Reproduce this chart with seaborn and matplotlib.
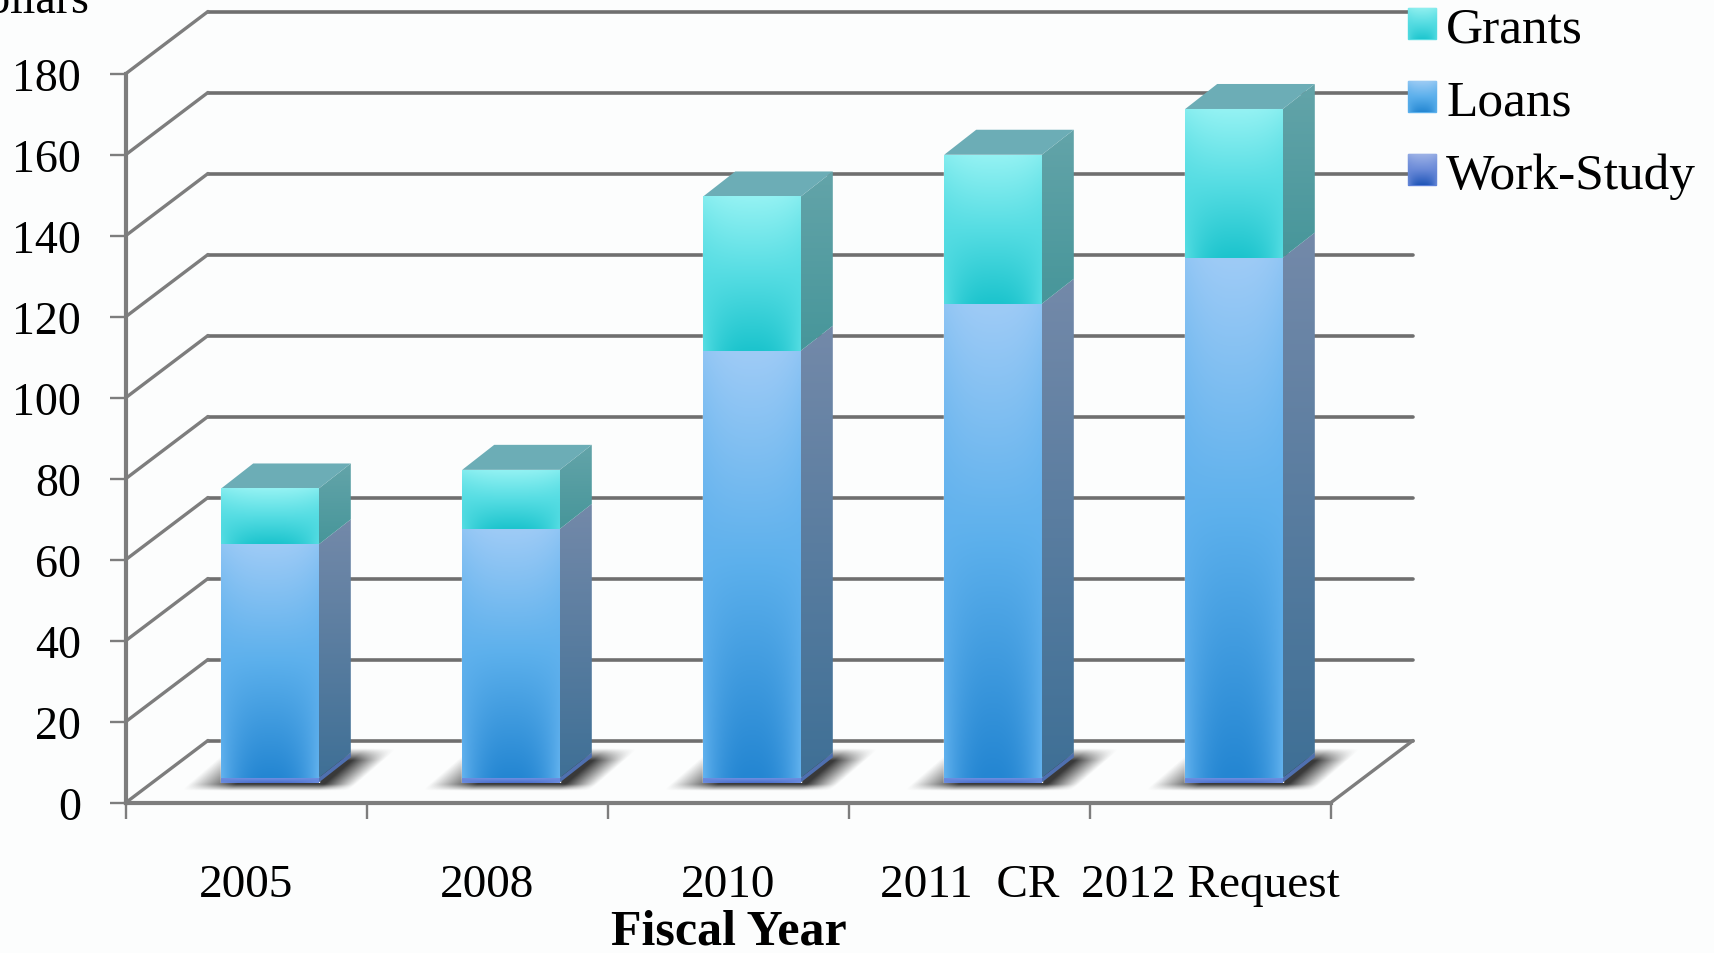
import numpy as np
import matplotlib
matplotlib.use("Agg")
import matplotlib.pyplot as plt
from matplotlib.colors import to_rgb
from matplotlib.patches import Polygon
import seaborn as sns

# values in billions of dollars
years = ["2005", "2008", "2010", "2011  CR", "2012 Request"]
work_study = [1.2, 1.2, 1.2, 1.2, 1.2]
loans = [57.6, 61.4, 105.4, 117.0, 128.4]
grants = [13.8, 14.6, 38.1, 36.8, 36.7]
y_ticks = [0, 20, 40, 60, 80, 100, 120, 140, 160, 180]

W, H = 1715, 954
BG = "#fcfdfd"
GRID = "#6f6f6f"

# oblique "3D" offsets, in pixels
WALL_DX, WALL_DY = 82, 62
BAR_DX, BAR_DY = 23.5, 20
SIDE_DX, SIDE_DY = 32, 25
FRONT = (126, 803.5, 1331, 74.5)


def rect(left, bottom, right, top, dx=0, dy=0):
    return [(left + dx) / W, 1 - (bottom - dy) / H, (right - left) / W, (bottom - top) / H]


def gradient(top, mid, low, edge, n=80):
    t = np.linspace(0, 1, n)[:, None]
    u = np.linspace(-1, 1, n)[None, :]
    top, mid, low, edge = [np.array(to_rgb(c))[None, None, :] for c in (top, mid, low, edge)]
    a = np.clip(t * 2, 0, 1)[:, :, None]
    b = np.clip(t * 2 - 1, 0, 1)[:, :, None]
    col = (1 - a) * top + a * mid
    col = (1 - b) * col + b * low
    f = (np.abs(u) ** 2.5 * (0.25 + 0.75 * t))[:, :, None]
    return (1 - f) * col + f * edge


def paint(ax, patch, colors, zorder):
    # fill a patch with a gradient image clipped to it
    ax.add_patch(patch)
    patch.set_facecolor("none")
    patch.set_edgecolor("none")
    pts = patch.get_xy()
    im = ax.imshow(colors, extent=(pts[:, 0].min(), pts[:, 0].max(), pts[:, 1].min(), pts[:, 1].max()),
                   aspect="auto", interpolation="bilinear", origin="upper", zorder=zorder)
    im.set_clip_path(patch)
    return im


sns.set_theme(style="white")
plt.rcParams["font.family"] = ["Liberation Serif", "DejaVu Serif"]
plt.rcParams["axes.facecolor"] = "none"

fig = plt.figure(figsize=(W / 100, H / 100), dpi=100, facecolor=BG)

# back wall and floor lines
ax_back = fig.add_axes(rect(*FRONT, dx=WALL_DX, dy=WALL_DY), zorder=0)
ax_back.set_xlim(0, 5)
ax_back.set_ylim(0, 180)
ax_back.set_xticks([])
ax_back.set_yticks(y_ticks)
ax_back.set_yticklabels([])
ax_back.tick_params(length=0)
ax_back.grid(axis="y", color=GRID, lw=2.6, clip_on=False)
sns.despine(ax=ax_back, left=True, bottom=True)

# front frame with the real ticks
ax = fig.add_axes(rect(*FRONT), zorder=1)
ax.set_xlim(0, 5)
ax.set_ylim(0, 180)
x_scale = (FRONT[2] - FRONT[0]) / 5
y_scale = (FRONT[1] - FRONT[3]) / 180
for v in y_ticks:
    ax.plot([0, WALL_DX / x_scale], [v, v + WALL_DY / y_scale], color="#7d7d7d", lw=2.4, clip_on=False, zorder=1)
ax.plot([5, 5 + WALL_DX / x_scale], [0, WALL_DY / y_scale], color="#7d7d7d", lw=2.4, clip_on=False, zorder=1)
ax.set_yticks(y_ticks)
ax.set_xticks(range(6))
ax.set_xticklabels([])
ax.set_xticks(np.arange(len(years)) + 0.5, years, minor=True)
ax.tick_params(axis="y", length=11.5, width=1.7, color="#7d7d7d", pad=21, labelsize=33, labelcolor="black", left=True)
ax.tick_params(axis="x", which="major", length=11.5, width=1.7, color="#7d7d7d", bottom=True)
ax.tick_params(axis="x", which="minor", length=0, pad=44, labelsize=34, labelcolor="black")
ax.set_xlabel("Fiscal Year", fontsize=36, fontweight="bold", color="black", labelpad=1.5)
for side in ["left", "bottom"]:
    ax.spines[side].set_color("#7d7d7d")
    ax.spines[side].set_linewidth(3)
sns.despine(ax=ax)

fig.text(90 / W, 1 - 13 / H, "Dollars", fontsize=33, ha="right", va="baseline", color="black")

# the stacked bars stand a little way into the floor
ax_bars = fig.add_axes(rect(*FRONT, dx=BAR_DX, dy=BAR_DY), zorder=2)
work = np.array(work_study)
loan = np.array(loans)
grant = np.array(grants)
bar_kws = dict(x=years, errorbar=None, width=0.405, saturation=1, ax=ax_bars, legend=False)
sns.barplot(y=work, bottom=0, color="#5b7fd8", **bar_kws)
sns.barplot(y=loan, bottom=work, color="#5bb0ec", **bar_kws)
sns.barplot(y=grant, bottom=work + loan, color="#55dce2", **bar_kws)

xlim = (-0.5, len(years) - 0.5)
ylim = (0, 180)
ax_bars.set_xlim(xlim)
ax_bars.set_ylim(ylim)
ax_bars.axis("off")

sdx = SIDE_DX / x_scale
sdy = SIDE_DY / y_scale
n = len(years)
styles = [
    (gradient("#6f8fe0", "#5b7fd8", "#4a6cc8", "#6f8fe0"), ("#4f70b0", "#4f70b0")),
    (gradient("#9ecbf6", "#5cb0ec", "#2486d2", "#62b2ee"), ("#7389a9", "#3f7096")),
    (gradient("#94f2f3", "#56dde3", "#1cc4cd", "#56dde3"), ("#63a4a9", "#47969a")),
]

# soft shadows on the floor
for bar in ax_bars.patches[:n]:
    x0 = bar.get_x()
    x1 = x0 + bar.get_width()
    ext = (x0 - 0.25, x1 + 0.4, -4, 11)
    xs = np.linspace(ext[0], ext[1], 240)
    ys = np.linspace(ext[3], ext[2], 80)
    gx, gy = np.meshgrid(xs, ys)
    shear = gx - (gy + 1) * (37 / x_scale) / (32 / y_scale)
    left = np.clip((shear - (x0 - 0.15)) / 0.2, 0, 1)
    right = np.clip(((x1 + 0.14) - shear) / 0.13, 0, 1)
    low = np.clip((gy + 2) / 1.6, 0, 1)
    high = np.clip((8.5 - gy) / 3, 0, 1)
    shade = np.zeros(gx.shape + (4,))
    shade[..., :3] = 0.12
    shade[..., 3] = 0.88 * left * right * low * high
    ax_bars.imshow(shade, extent=ext, aspect="auto", zorder=0.5, clip_on=False, interpolation="bilinear")

for s, (front_colors, side_colors) in enumerate(styles):
    for i in range(n):
        bar = ax_bars.patches[s * n + i]
        x0 = bar.get_x()
        x1 = x0 + bar.get_width()
        y0 = bar.get_y()
        y1 = y0 + bar.get_height()
        face = Polygon([(x0, y0), (x1, y0), (x1, y1), (x0, y1)], transform=ax_bars.transData)
        paint(ax_bars, face, front_colors, 4)
        side = Polygon([(x1, y0), (x1 + sdx, y0 + sdy), (x1 + sdx, y1 + sdy), (x1, y1)], transform=ax_bars.transData)
        # side colours run top to bottom
        ramp = np.linspace(0, 1, 60)[:, None, None]
        side_img = (1 - ramp) * np.array(to_rgb(side_colors[0]))[None, None, :] + ramp * np.array(to_rgb(side_colors[1]))[None, None, :]
        paint(ax_bars, side, side_img, 3)
        if s == 2:
            ax_bars.add_patch(Polygon([(x0, y1), (x1, y1), (x1 + sdx, y1 + sdy), (x0 + sdx, y1 + sdy)],
                                      facecolor="#6cadb6", edgecolor="none", zorder=3, clip_on=False))
ax_bars.set_xlim(xlim)
ax_bars.set_ylim(ylim)

# legend text through matplotlib, swatches repainted with their gradient
legend_names = ["Grants", "Loans", "Work-Study"]
legend_colors = ["#55dce2", "#5bb0ec", "#5b7fd8"]
swatches = [gradient("#8eefef", "#55dce2", "#1fc6cf", "#55dce2"),
            gradient("#9ccbf4", "#5cb0ec", "#2587d2", "#5cb0ec"),
            gradient("#9db2e6", "#6a8ad8", "#2056b8", "#6a8ad8")]
handles = [plt.Rectangle((0, 0), 1, 1, color=c) for c in legend_colors]
leg = fig.legend(handles, legend_names, loc="upper left", bbox_to_anchor=(1408 / W, 1 - 7 / H), frameon=False,
                 fontsize=37, handlelength=0.545, handleheight=0.545, handletextpad=0.2,
                 labelspacing=0.52, borderpad=0, borderaxespad=0, labelcolor="black")
fig.canvas.draw()
for patch, img in zip(leg.get_patches(), swatches):
    bb = patch.get_window_extent()
    sw = fig.add_axes([bb.x0 / W, bb.y0 / H, bb.width / W, bb.height / H], zorder=6)
    sw.imshow(img, aspect="auto", interpolation="bilinear")
    sw.axis("off")

fig.savefig("out.png", dpi=100, facecolor=BG)
